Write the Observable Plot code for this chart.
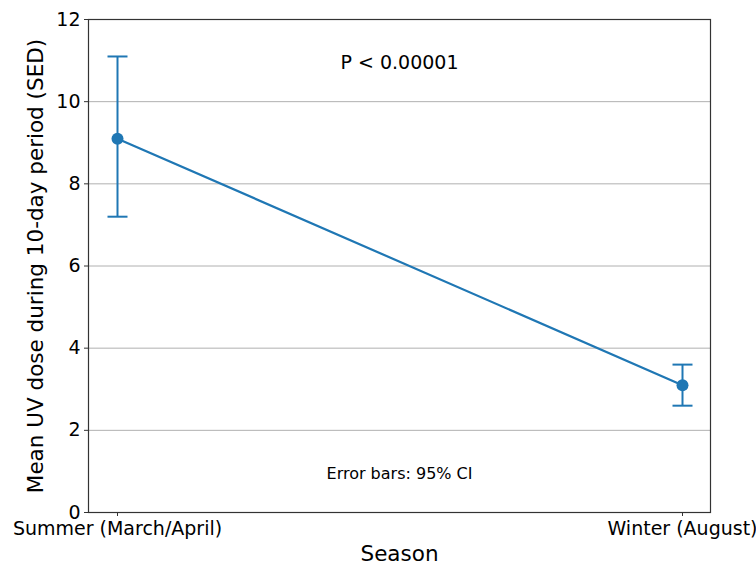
<!DOCTYPE html>
<html>
<head>
<meta charset="utf-8">
<script src="https://cdn.jsdelivr.net/npm/d3@7"></script>
<script src="https://cdn.jsdelivr.net/npm/@observablehq/plot@0.6"></script>
<style>
  html, body { margin: 0; padding: 0; background: #fff; }
  #chart svg { display: block; }
</style>
</head>
<body>
<div id="chart"></div>
<script>
const seasons = ["Summer (March/April)", "Winter (August)"];
const means = [9.1, 3.1];
const ciLow = [7.2, 2.6];
const ciHigh = [11.1, 3.6];
const yTicks = [0, 2, 4, 6, 8, 10, 12];
const gridTicks = [2, 4, 6, 8, 10];
const yLabel = "Mean UV dose during 10-day period (SED)";
const xLabel = "Season";
const pText = "P < 0.00001";
const noteText = "Error bars: 95% CI";

const data = seasons.map((s, i) => ({season: s, mean: means[i], lo: ciLow[i], hi: ciHigh[i]}));
const blue = "#1f77b4";

const capSymbol = {
  draw(context, size) {
    const w = Math.sqrt(size / Math.PI);
    context.moveTo(-w, 0);
    context.lineTo(w, 0);
  }
};

const chart = Plot.plot({
  width: 756,
  height: 566,
  marginLeft: 88,
  marginRight: 46,
  marginTop: 19,
  marginBottom: 54,
  style: {fontFamily: "DejaVu Sans", fontSize: "19px", color: "#000", background: "#fff"},
  x: {type: "point", domain: seasons, padding: 0.05},
  y: {domain: [0, 12]},
  marks: [
    Plot.gridY(gridTicks, {stroke: "#b0b0b0", strokeOpacity: 1, strokeWidth: 1}),
    Plot.axisY(yTicks, {
      tickSize: 4, tickPadding: 4, fontSize: 19, stroke: "#333", label: null
    }),
    Plot.axisX({
      tickSize: 4, tickPadding: 5, fontSize: 19, stroke: "#333", label: null
    }),
    Plot.text([yLabel], {frameAnchor: "left", dx: -52, rotate: -90, textAnchor: "middle", lineAnchor: "middle", text: d => d, fontSize: 21.5, fill: "#000"}),
    Plot.text([xLabel], {frameAnchor: "bottom", dy: 42, textAnchor: "middle", lineAnchor: "middle", text: d => d, fontSize: 21.5, fill: "#000"}),
    Plot.ruleX(data, {x: "season", y1: "lo", y2: "hi", stroke: blue, strokeWidth: 2}),
    Plot.dot(data, {x: "season", y: "lo", symbol: capSymbol, r: 10, stroke: blue, strokeWidth: 2, fill: "none"}),
    Plot.dot(data, {x: "season", y: "hi", symbol: capSymbol, r: 10, stroke: blue, strokeWidth: 2, fill: "none"}),
    Plot.line(data, {x: "season", y: "mean", stroke: blue, strokeWidth: 2.2}),
    Plot.dot(data, {x: "season", y: "mean", r: 6, fill: blue, stroke: "none"}),
    Plot.text([pText], {frameAnchor: "top", dy: 43, lineAnchor: "middle", text: d => d, fontSize: 19, fill: "#000"}),
    Plot.text([noteText], {frameAnchor: "bottom", dy: -39, lineAnchor: "middle", text: d => d, fontSize: 16, fill: "#000"}),
    Plot.frame({stroke: "#333", strokeWidth: 1.2})
  ]
});
document.getElementById("chart").appendChild(chart);
</script>
</body>
</html>
